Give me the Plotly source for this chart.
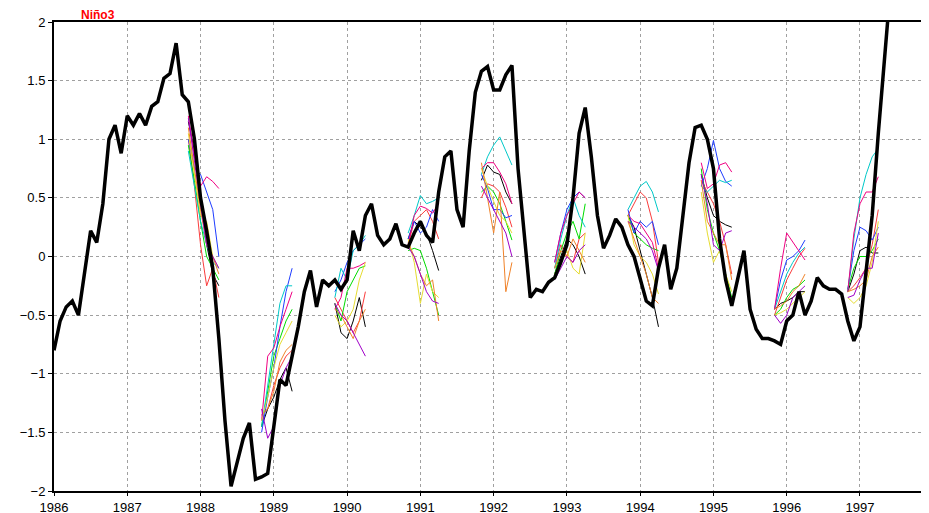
import plotly.graph_objects as go

# Observed index, monthly from Jan 1986
obs_start = 1986.0
observed = [
    -0.80, -0.55, -0.43, -0.38, -0.50, -0.12, 0.22, 0.12, 0.45, 1.00, 1.12, 0.88,
    1.20, 1.12, 1.22, 1.12, 1.28, 1.32, 1.52, 1.56, 1.82, 1.38, 1.32, 1.00,
    0.50, 0.22, -0.10, -0.70, -1.40, -1.96, -1.75, -1.55, -1.42, -1.90, -1.88, -1.85,
    -1.45, -1.05, -1.10, -0.85, -0.60, -0.30, -0.12, -0.43, -0.20, -0.25, -0.20, -0.28,
    -0.20, 0.22, 0.05, 0.35, 0.45, 0.18, 0.10, 0.15, 0.28, 0.10, 0.08, 0.20,
    0.30, 0.18, 0.12, 0.55, 0.85, 0.90, 0.40, 0.25, 0.90, 1.40, 1.58, 1.62,
    1.42, 1.42, 1.55, 1.63, 0.75, 0.20, -0.35, -0.28, -0.30, -0.22, -0.18, -0.05,
    0.10, 0.50, 1.05, 1.27, 0.85, 0.35, 0.07, 0.18, 0.32, 0.25, 0.10, 0.00,
    -0.20, -0.38, -0.42, -0.10, 0.10, -0.28, -0.10, 0.35, 0.80, 1.10, 1.12, 1.00,
    0.75, 0.15, -0.20, -0.42, -0.20, 0.05, -0.45, -0.62, -0.70, -0.70, -0.72, -0.75,
    -0.55, -0.50, -0.30, -0.50, -0.38, -0.18, -0.25, -0.28, -0.28, -0.32, -0.55, -0.72,
    -0.60, -0.15, 0.35, 1.05, 1.70, 2.30,
]

# Forecast groups: start month index (months since Jan 1986), 6 monthly values per member
member_names = ["black", "red", "green", "blue", "cyan", "magenta", "yellow", "orange", "purple"]
member_colors = ["#000000", "#fa3c3c", "#00dc00", "#1e3cff", "#00c8c8",
                 "#f00082", "#e6dc32", "#f08228", "#a000c8"]
forecast_starts = [22, 34, 46, 58, 70, 82, 94, 106, 118, 130]

fc_1988 = [
    [1.15, 0.90, 0.50, 0.10, -0.15, -0.25],
    [1.00, 0.60, 0.10, -0.25, -0.10, -0.35],
    [0.95, 0.65, 0.30, 0.00, -0.10, -0.20],
    [1.00, 0.75, 0.70, 0.55, 0.40, 0.00],
    [0.90, 0.60, 0.30, 0.10, -0.05, -0.10],
    [1.20, 0.85, 0.60, 0.68, 0.64, 0.58],
    [1.05, 0.70, 0.35, 0.30, 0.00, -0.10],
    [1.10, 0.75, 0.40, 0.10, 0.00, -0.15],
    [1.18, 0.80, 0.45, 0.10, 0.00, -0.10],
]
fc_1989 = [
    [-1.45, -1.30, -1.20, -1.05, -0.95, -1.15],
    [-1.35, -1.30, -1.10, -0.95, -0.85, -0.80],
    [-1.45, -1.15, -0.85, -0.70, -0.55, -0.45],
    [-1.50, -1.20, -0.95, -0.60, -0.30, -0.10],
    [-1.45, -1.10, -0.75, -0.40, -0.25, -0.25],
    [-1.40, -0.85, -0.78, -0.60, -0.45, -0.30],
    [-1.40, -1.20, -0.95, -0.75, -0.65, -0.55],
    [-1.35, -1.30, -1.15, -0.90, -0.80, -0.75],
    [-1.30, -1.55, -1.45, -1.10, -0.95, -0.85],
]
fc_1990 = [
    [-0.40, -0.65, -0.70, -0.55, -0.35, -0.60],
    [-0.35, -0.45, -0.55, -0.65, -0.55, -0.30],
    [-0.40, -0.55, -0.30, -0.20, -0.10, -0.08],
    [-0.30, -0.20, -0.05, 0.05, 0.10, 0.15],
    [-0.35, -0.10, -0.20, 0.05, 0.10, 0.18],
    [-0.45, -0.35, -0.10, -0.10, -0.08, -0.05],
    [-0.50, -0.60, -0.55, -0.45, -0.20, -0.05],
    [-0.45, -0.50, -0.60, -0.70, -0.55, -0.45],
    [-0.40, -0.50, -0.55, -0.65, -0.75, -0.85],
]
fc_1991 = [
    [0.15, 0.30, 0.25, 0.20, 0.05, -0.12],
    [0.10, 0.30, 0.35, 0.40, 0.30, 0.15],
    [0.05, 0.07, 0.05, -0.10, -0.30, -0.50],
    [0.15, 0.30, 0.20, 0.25, 0.40, 0.30],
    [0.20, 0.35, 0.52, 0.45, 0.47, 0.50],
    [0.10, 0.35, 0.43, 0.41, 0.37, 0.45],
    [0.15, -0.05, -0.40, -0.15, -0.30, -0.35],
    [0.12, 0.00, -0.15, -0.25, -0.20, -0.55],
    [0.08, 0.00, -0.15, -0.30, -0.38, -0.40],
]
fc_1992 = [
    [0.65, 0.78, 0.72, 0.70, 0.55, 0.45],
    [0.50, 0.62, 0.60, 0.55, 0.42, 0.25],
    [0.55, 0.60, 0.55, 0.45, 0.30, 0.14],
    [0.70, 0.58, 0.40, 0.40, 0.33, 0.35],
    [0.70, 0.85, 0.95, 1.02, 0.90, 0.78],
    [0.75, 0.80, 0.80, 0.72, 0.62, 0.45],
    [0.75, 0.60, 0.47, 0.35, 0.30, 0.20],
    [0.80, 0.50, 0.20, 0.55, -0.30, -0.05],
    [0.60, 0.50, 0.40, 0.30, 0.20, 0.00],
]
fc_1993 = [
    [-0.15, 0.00, 0.15, 0.10, 0.00, -0.15],
    [-0.10, 0.10, 0.00, -0.05, 0.15, 0.20],
    [-0.15, 0.05, 0.20, 0.30, 0.15, 0.45],
    [-0.05, 0.20, 0.40, 0.50, 0.55, 0.50],
    [-0.10, 0.15, 0.35, 0.50, 0.35, 0.25],
    [-0.05, 0.20, 0.35, 0.45, 0.55, 0.50],
    [-0.15, -0.05, 0.05, -0.10, -0.15, 0.20],
    [-0.10, 0.05, 0.00, 0.15, 0.05, -0.05],
    [-0.20, -0.10, 0.00, -0.05, 0.05, 0.10],
]
fc_1994 = [
    [0.35, 0.25, 0.05, -0.15, -0.35, -0.60],
    [0.35, 0.45, 0.55, 0.50, 0.30, -0.05],
    [0.35, 0.20, 0.15, 0.10, 0.07, 0.05],
    [0.40, 0.20, 0.30, 0.25, 0.30, 0.10],
    [0.40, 0.50, 0.60, 0.64, 0.55, 0.38],
    [0.35, 0.30, 0.28, 0.20, 0.12, -0.10],
    [0.35, 0.10, 0.00, -0.05, -0.15, -0.32],
    [0.30, 0.15, 0.00, -0.15, -0.35, -0.40],
    [0.30, 0.25, 0.20, 0.15, 0.05, -0.12],
]
fc_1995 = [
    [0.70, 0.50, 0.35, 0.30, 0.27, 0.25],
    [0.65, 0.55, 0.45, 0.30, 0.10, -0.15],
    [0.75, 0.40, 0.20, 0.05, -0.15, -0.35],
    [0.60, 0.75, 0.99, 0.75, 0.64, 0.60],
    [0.60, 0.55, 0.60, 0.65, 0.63, 0.65],
    [0.80, 0.58, 0.62, 0.78, 0.80, 0.72],
    [0.55, 0.20, -0.05, 0.05, -0.15, -0.30],
    [0.65, 0.30, 0.20, 0.10, 0.10, -0.20],
    [0.70, 0.45, 0.10, 0.05, 0.20, 0.22],
]
fc_1996 = [
    [-0.45, -0.40, -0.38, -0.35, -0.30, -0.30],
    [-0.50, -0.35, -0.20, -0.10, 0.00, 0.07],
    [-0.50, -0.45, -0.35, -0.28, -0.25, -0.20],
    [-0.45, -0.20, -0.03, 0.00, 0.05, 0.14],
    [-0.45, -0.30, -0.15, -0.05, 0.03, 0.08],
    [-0.45, -0.10, 0.20, 0.12, 0.05, -0.03],
    [-0.50, -0.48, -0.45, -0.40, -0.35, -0.30],
    [-0.45, -0.42, -0.38, -0.30, -0.25, -0.15],
    [-0.50, -0.57, -0.50, -0.35, -0.30, -0.25],
]
fc_1997 = [
    [-0.30, -0.15, 0.05, 0.08, 0.03, 0.03],
    [-0.30, -0.25, -0.18, -0.10, 0.10, 0.40],
    [-0.28, -0.10, 0.00, 0.00, 0.05, 0.15],
    [-0.28, 0.05, 0.25, 0.22, 0.14, 0.25],
    [-0.30, 0.15, 0.50, 0.70, 0.85, 0.92],
    [-0.30, 0.20, 0.45, 0.55, 0.55, 0.68],
    [-0.35, -0.40, -0.35, -0.25, -0.05, 0.30],
    [-0.30, -0.28, -0.25, -0.20, 0.00, 0.08],
    [-0.35, -0.33, -0.20, -0.10, -0.10, 0.20],
]
forecast_groups = [fc_1988, fc_1989, fc_1990, fc_1991, fc_1992,
                   fc_1993, fc_1994, fc_1995, fc_1996, fc_1997]

year_ticks = list(range(1986, 1998))
y_ticks = [-2, -1.5, -1, -0.5, 0, 0.5, 1, 1.5, 2]
y_ticktext = ["\u22122", "\u22121.5", "\u22121", "\u22120.5", "0", "0.5", "1", "1.5", "2"]

fig = go.Figure()

for start, group in zip(forecast_starts, forecast_groups):
    for name, color, vals in zip(member_names, member_colors, group):
        xs = [obs_start + (start + k) / 12.0 for k in range(len(vals))]
        fig.add_trace(go.Scatter(x=xs, y=vals, mode="lines",
                                 line=dict(color=color, width=1),
                                 showlegend=False, hoverinfo="skip"))

obs_x = [obs_start + i / 12.0 for i in range(len(observed))]
fig.add_trace(go.Scatter(x=obs_x, y=observed, mode="lines",
                         line=dict(color="black", width=3.5),
                         showlegend=False))

fig.add_annotation(text="<b>Niño3</b>", xref="paper", yref="paper",
                   x=0.03, y=1.0, xanchor="left", yanchor="bottom", yshift=-1,
                   borderpad=0, showarrow=False,
                   font=dict(size=12, color="red", family="Liberation Sans"))

axis_font = dict(family="Liberation Sans", size=13, color="black")
fig.update_layout(
    width=929, height=513,
    margin=dict(l=46, r=14, t=14, b=30),
    paper_bgcolor="white", plot_bgcolor="white",
    xaxis=dict(range=[1986, 1997.86], tickvals=year_ticks,
               ticktext=[str(y) for y in year_ticks], automargin=False,
               showgrid=True, gridcolor="#a0a0a0", griddash="dot", gridwidth=1,
               showline=True, linecolor="black", linewidth=2, mirror=True,
               ticks="outside", ticklen=3, tickcolor="black",
               tickfont=axis_font, zeroline=False),
    yaxis=dict(range=[-2, 2], tickvals=y_ticks, ticktext=y_ticktext,
               automargin=False,
               showgrid=True, gridcolor="#a0a0a0", griddash="dot", gridwidth=1,
               showline=True, linecolor="black", linewidth=2, mirror=True,
               ticks="outside", ticklen=4, tickcolor="black",
               tickfont=axis_font, zeroline=False),
)

fig.write_html("out.html")
